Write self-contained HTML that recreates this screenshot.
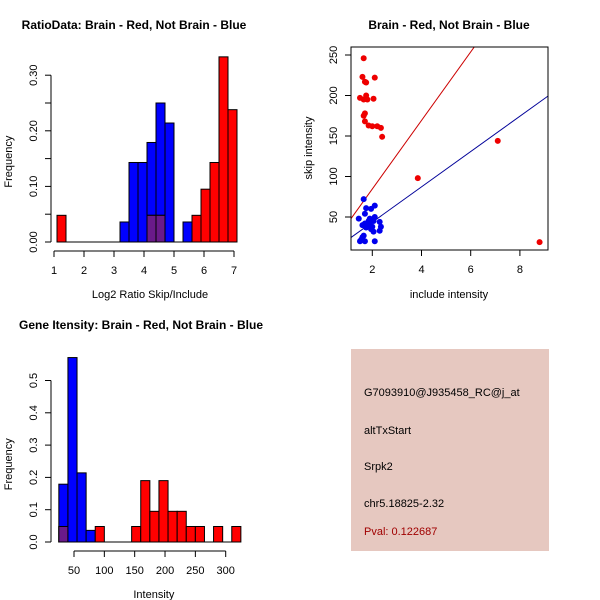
<!DOCTYPE html>
<html><head><meta charset="utf-8"><style>
body{margin:0;background:#fff}
svg{display:block;font-family:"Liberation Sans",sans-serif}
</style></head><body>
<svg id="s" width="600" height="600" xmlns="http://www.w3.org/2000/svg">
<rect x="351" y="349" width="198" height="202" fill="#e6c8c0"/>
<g font-size="11">
<text x="364" y="396">G7093910@J935458_RC@j_at</text>
<text x="364" y="434">altTxStart</text>
<text x="364" y="470">Srpk2</text>
<text x="364" y="507">chr5.18825-2.32</text>
<text x="364" y="535" fill="#a00000">Pval: 0.122687</text>
</g>
</svg>
<script>
// ---- data: ratio histogram (bins start 1.1, width 0.3)
const ratioStart = 1.1, ratioWidth = 0.3;
const ratioRed  = [0.048,0,0,0,0,0,0,0,0,0,0.048,0.048,0,0,0,0.048,0.095,0.143,0.333,0.238];
const ratioBlue = [0,0,0,0,0,0,0,0.036,0.143,0.143,0.179,0.25,0.214,0,0.036,0,0,0,0,0];
const ratioXTicks = [1,2,3,4,5,6,7];
const ratioYTicks = ["0.00","0.10","0.20","0.30"];
// ---- data: intensity histogram (bins start 25, width 15)
const intStart = 25, intWidth = 15;
const intBlue = [0.179,0.571,0.214,0.036,0,0,0,0,0,0,0,0,0,0,0,0,0,0,0,0];
const intRed  = [0.048,0,0,0,0.048,0,0,0,0.048,0.19,0.095,0.19,0.095,0.095,0.048,0.048,0,0.048,0,0.048];
const intXTicks = [50,100,150,200,250,300];
const intYTicks = ["0.0","0.1","0.2","0.3","0.4","0.5"];
// ---- data: scatter
const redInc  = [1.65,1.6,1.7,1.75,2.1,1.5,1.65,1.75,1.8,2.05,1.7,1.65,1.7,1.85,2.0,2.2,2.35,2.4,3.85,7.1,8.8];
const redSkip = [246,223,217,216,222,197,195,200,195,196,178,175,168,163,162,162,160,149,98,144,19];
const blueInc  = [1.65,1.75,1.95,2.1,1.7,1.45,2.1,2.05,1.6,1.7,1.8,1.9,1.85,2.0,1.75,2.3,2.35,2.3,2.05,1.6,1.55,1.5,1.7,2.1,1.65,1.9,1.95];
const blueSkip = [72,61,60,64,54,48,50,45,40,42,40,42,45,38,37,44,38,33,32,25,22,20,20,20,27,48,35];
const redFit = [0, 42.3];   // intercept, slope
const blueFit = [0, 21.8];
const scXTicks = [2,4,6,8];
const scYTicks = [50,100,150,200,250];

const S = document.getElementById('s');
const NS = 'http://www.w3.org/2000/svg';
function mk(tag, attrs, name, txt){
  const e = document.createElementNS(NS, tag);
  for (const k in attrs) e.setAttribute(k, attrs[k]);
  
  
  if (txt !== undefined) e.textContent = txt;
  S.appendChild(e); return e;
}
function title(x,y,t,name){ mk('text',{x:x,y:y,'font-size':12,'font-weight':'bold','text-anchor':'middle'},name,t); }

function hist(cfg){
  const {start,width,red,blue,xs,ys,xticks,yticks,yvals,axisY,axisX,xl,pre} = cfg;
  const n = red.length;
  for (let i=0;i<n;i++){
    const x0 = xs(start+i*width), x1 = xs(start+(i+1)*width);
    if (blue[i]>0) mk('rect',{x:x0,y:ys(blue[i]),width:x1-x0,height:ys(0)-ys(blue[i]),fill:'#0000ff',stroke:'#000','stroke-width':1},pre+'-blue-bar');
    if (red[i]>0) mk('rect',{x:x0,y:ys(red[i]),width:x1-x0,height:ys(0)-ys(red[i]),fill:'#ff0000',stroke:'#000','stroke-width':1},pre+'-red-bar');
    const m = Math.min(red[i],blue[i]);
    if (m>0) mk('rect',{x:x0,y:ys(m),width:x1-x0,height:ys(0)-ys(m),fill:'#6a1a8a',stroke:'#000','stroke-width':1},pre+'-overlap-bar');
  }
  mk('line',{x1:xs(start),x2:xs(start+n*width),y1:ys(0),y2:ys(0),stroke:'#000'},pre+'-baseline');
  mk('line',{x1:axisX,x2:axisX,y1:ys(0),y2:ys(yvals[yvals.length-1]),stroke:'#000'},pre+'-y-axis');
  yvals.forEach(v=>mk('line',{x1:axisX-6,x2:axisX,y1:ys(v),y2:ys(v),stroke:'#000'},pre+'-y-tick'));
  yticks.forEach(t=>{const y=ys(parseFloat(t)); mk('text',{x:0,y:0,'font-size':11,'text-anchor':'middle',transform:`translate(${axisX-14},${y}) rotate(-90)`},pre+'-y-tick-label',t);});
  mk('line',{x1:xs(xticks[0]),x2:xs(xticks[xticks.length-1]),y1:axisY,y2:axisY,stroke:'#000'},pre+'-x-axis');
  xticks.forEach(v=>{mk('line',{x1:xs(v),x2:xs(v),y1:axisY,y2:axisY+6,stroke:'#000'},pre+'-x-tick');
    mk('text',{x:xs(v),y:axisY+23,'font-size':11,'text-anchor':'middle'},pre+'-x-tick-label',String(v));});
  mk('text',{x:(xs(xticks[0])+xs(xticks[xticks.length-1]))/2+ (pre==='ratio'?6:4),y:axisY+47,'font-size':11,'text-anchor':'middle'},pre+'-x-axis-title',xl);
  mk('text',{x:0,y:0,'font-size':11,'text-anchor':'middle',transform:`translate(12,${(ys(0)+ys(yvals[yvals.length-1]))/2+3}) rotate(-90)`},pre+'-y-axis-title','Frequency');
}

hist({start:ratioStart,width:ratioWidth,red:ratioRed,blue:ratioBlue,
  xs:v=>54+(v-1)*30, ys:v=>242-v*556,
  xticks:ratioXTicks, yticks:ratioYTicks, yvals:[0,0.05,0.1,0.15,0.2,0.25,0.3],
  axisY:251, axisX:51, xl:'Log2 Ratio Skip/Include', pre:'ratio'});
title(134,29,'RatioData: Brain - Red, Not Brain - Blue','ratio-title');

hist({start:intStart,width:intWidth,red:intRed,blue:intBlue,
  xs:v=>74+(v-50)*0.6068, ys:v=>542-v*323,
  xticks:intXTicks, yticks:intYTicks, yvals:[0,0.1,0.2,0.3,0.4,0.5],
  axisY:551, axisX:51, xl:'Intensity', pre:'intensity'});
title(141,329,'Gene Itensity: Brain - Red, Not Brain - Blue','intensity-title');

const sx = v=>372.3+(v-2)*24.6, sy = v=>217-(v-50)*0.81;
const L=351,R=548,T=47,B=250;
title(449,29,'Brain - Red, Not Brain - Blue','scatter-title');
mk('defs',{},'clip-defs').innerHTML='<clipPath id="cp"><rect x="351" y="47" width="197" height="203"/></clipPath>';
function fit(f,col,name){
  mk('line',{x1:sx(0),y1:sy(f[0]),x2:sx(10),y2:sy(f[0]+f[1]*10),stroke:col,'clip-path':'url(#cp)'},name);
}
fit(redFit,'#cc0000','red-fit-line');
fit(blueFit,'#000099','blue-fit-line');
redInc.forEach((v,i)=>mk('circle',{cx:sx(v),cy:sy(redSkip[i]),r:3,fill:'#ee0000'},'red-point'));
blueInc.forEach((v,i)=>mk('circle',{cx:sx(v),cy:sy(blueSkip[i]),r:3,fill:'#0000ee'},'blue-point'));
mk('rect',{x:L,y:T,width:R-L,height:B-T,fill:'none',stroke:'#000'},'scatter-frame');
scXTicks.forEach(v=>{mk('line',{x1:sx(v),x2:sx(v),y1:B,y2:B+6,stroke:'#000'},'scatter-x-tick');
  mk('text',{x:sx(v),y:B+23,'font-size':11,'text-anchor':'middle'},'scatter-x-tick-label',String(v));});
scYTicks.forEach(v=>{mk('line',{x1:L-6,x2:L,y1:sy(v),y2:sy(v),stroke:'#000'},'scatter-y-tick');
  mk('text',{x:0,y:0,'font-size':11,'text-anchor':'middle',transform:`translate(${L-14},${sy(v)}) rotate(-90)`},'scatter-y-tick-label',String(v));});
mk('text',{x:449,y:298,'font-size':11,'text-anchor':'middle'},'scatter-x-axis-title','include intensity');
mk('text',{x:0,y:0,'font-size':11,'text-anchor':'middle',transform:'translate(312,148) rotate(-90)'},'scatter-y-axis-title','skip intensity');
</script>
</body></html>
